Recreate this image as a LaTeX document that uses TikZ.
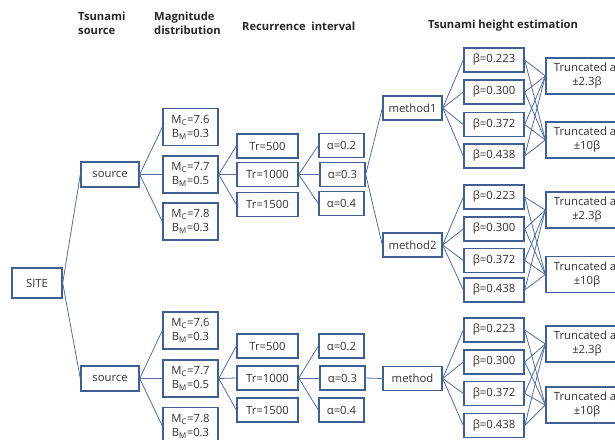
\documentclass[tikz,border=0pt]{standalone}
\usepackage{fontspec}
\setmainfont{Open Sans}
\definecolor{boxc}{RGB}{64,96,148}
\definecolor{linec}{RGB}{84,110,155}
\definecolor{txtc}{RGB}{50,50,50}
\begin{document}
\begin{tikzpicture}[x=1pt,y=-1pt,
 base/.style={draw=boxc,line width=1.4pt,fill=white,text=txtc,inner sep=0pt,font=\fontsize{11.3}{14}\selectfont,align=center},
 sitebox/.style={base,minimum width=50pt,minimum height=30pt},
 srcbox/.style={base,minimum width=58pt,minimum height=25pt},
 mcbox/.style={base,minimum width=55pt,minimum height=37pt},
 trbox/.style={base,minimum width=61pt,minimum height=24pt},
 abox/.style={base,minimum width=45pt,minimum height=24pt},
 mbox/.style={base,minimum width=59pt,minimum height=24pt},
 bbox/.style={base,minimum width=60pt,minimum height=24pt},
 tbox/.style={base,minimum width=82pt,minimum height=36pt},
 conn/.style={draw=linec,line width=0.8pt},
 head/.style={font=\bfseries\fontsize{11.2}{14}\selectfont,text=black!85,inner sep=0pt,align=left}]
\useasboundingbox (0,0) rectangle (615,439);
\clip (0,0) rectangle (615,439);
% headers
\node[head,anchor=north west] (h1) at (78,12) {Tsunami\\source};
\node[head,anchor=north west] (h2) at (154,12) {Magnitude\\distribution};
\node[head,anchor=west] (h3) at (242,26) {Recurrence\ \ interval};
\node[head,anchor=west] (h4) at (428,26) {Tsunami height estimation};
% site and sources
\node[sitebox] (site) at (37,283) {SITE};
\node[srcbox] (s1) at (110,174.5) {source};
\node[srcbox] (s2) at (110,378.5) {source};
% magnitude
\node[mcbox] (m11) at (190.5,127) {M\textsubscript{C}=7.6\\B\textsubscript{M}=0.3};
\node[mcbox] (m12) at (190.5,174.5) {M\textsubscript{C}=7.7\\B\textsubscript{M}=0.5};
\node[mcbox] (m13) at (190.5,221.5) {M\textsubscript{C}=7.8\\B\textsubscript{M}=0.3};
\node[mcbox] (m21) at (190.5,330.5) {M\textsubscript{C}=7.6\\B\textsubscript{M}=0.3};
\node[mcbox] (m22) at (190.5,378.5) {M\textsubscript{C}=7.7\\B\textsubscript{M}=0.5};
\node[mcbox] (m23) at (190.5,426) {M\textsubscript{C}=7.8\\B\textsubscript{M}=0.3};
% recurrence
\node[trbox] (t11) at (267.5,146) {Tr=500};
\node[trbox] (t12) at (267.5,174.5) {Tr=1000};
\node[trbox] (t13) at (267.5,204.5) {Tr=1500};
\node[trbox] (t21) at (267.5,346) {Tr=500};
\node[trbox] (t22) at (267.5,378) {Tr=1000};
\node[trbox] (t23) at (267.5,410) {Tr=1500};
% alpha
\node[abox] (a11) at (341.5,145.5) {α=0.2};
\node[abox] (a12) at (342.5,174.5) {α=0.3};
\node[abox] (a13) at (341.5,203.5) {α=0.4};
\node[abox] (a21) at (341.5,346) {α=0.2};
\node[abox] (a22) at (342.5,378) {α=0.3};
\node[abox] (a23) at (341.5,410) {α=0.4};
% methods
\node[mbox] (me1) at (412.5,108) {method1};
\node[mbox] (me2) at (412.5,245) {method2};
\node[mbox] (me3) at (412.5,378.5) {method};
% betas
\node[bbox] (b11) at (494,60) {β=0.223};
\node[bbox] (b12) at (494,92) {β=0.300};
\node[bbox] (b13) at (494,124.5) {β=0.372};
\node[bbox] (b14) at (494,156) {β=0.438};
\node[bbox] (b21) at (494,197) {β=0.223};
\node[bbox] (b22) at (494,229) {β=0.300};
\node[bbox] (b23) at (494,260.5) {β=0.372};
\node[bbox] (b24) at (494,290) {β=0.438};
\node[bbox] (b31) at (494,330) {β=0.223};
\node[bbox] (b32) at (494,362) {β=0.300};
\node[bbox] (b33) at (494,393.5) {β=0.372};
\node[bbox] (b34) at (494,425.5) {β=0.438};
% truncation
\node[tbox] (tr11) at (587,76) {Truncated at\\±2.3β};
\node[tbox] (tr12) at (587,140) {Truncated at\\±10β};
\node[tbox] (tr21) at (587,210) {Truncated at\\±2.3β};
\node[tbox] (tr22) at (587,274.5) {Truncated at\\±10β};
\node[tbox] (tr31) at (587,344) {Truncated at\\±2.3β};
\node[tbox] (tr32) at (587,405) {Truncated at\\±10β};
% connectors
\draw[conn] (site.east) -- (s1.west);
\draw[conn] (site.east) -- (s2.west);
\foreach \k in {1,2,3}{
  \draw[conn] (s1.east) -- (m1\k.west);
  \draw[conn] (s2.east) -- (m2\k.west);
  \draw[conn] (m12.east) -- (t1\k.west);
  \draw[conn] (m22.east) -- (t2\k.west);
  \draw[conn] (t12.east) -- (a1\k.west);
  \draw[conn] (t22.east) -- (a2\k.west);
}
\draw[conn] (a12.east) -- (me1.west);
\draw[conn] (a12.east) -- (me2.west);
\draw[conn] (a22.east) -- (me3.west);
\foreach \g in {1,2,3}{
  \foreach \k in {1,2,3,4}{
    \draw[conn] (me\g.east) -- (b\g\k.west);
    \draw[conn] (b\g\k.east) -- (tr\g1.west);
    \draw[conn] (b\g\k.east) -- (tr\g2.west);
  }
}
\end{tikzpicture}
\end{document}
